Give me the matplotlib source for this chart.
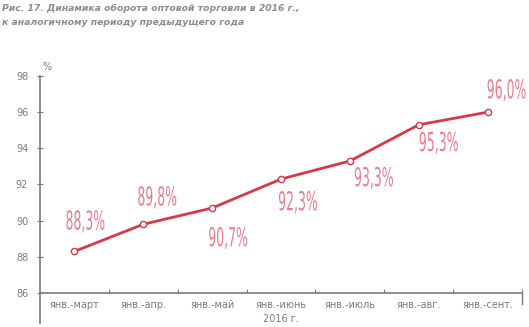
import matplotlib
matplotlib.use("Agg")
import matplotlib.pyplot as plt
import matplotlib.transforms as mtransforms
from matplotlib.lines import Line2D
from matplotlib.textpath import TextPath
from matplotlib.patches import PathPatch
from matplotlib.font_manager import FontProperties

periods = ["янв.-март", "янв.-апр.", "янв.-май", "янв.-июнь", "янв.-июль", "янв.-авг.", "янв.-сент."]
values = [88.3, 89.8, 90.7, 92.3, 93.3, 95.3, 96.0]
# label offsets (pixels, y up) from each point
label_dx = [11, 14, 16, 17, 24, 20, 19]
label_dy = [30, 27, -30, -23, -17, -18, 22]

line_color = "#d43a4a"
label_color = "#ea7e8e"
grey = "#7a7a7a"

fig = plt.figure(figsize=(5.29, 3.27), dpi=100)
ax = fig.add_axes([0.0756, 0.104, 0.9112, 0.6636])

x = list(range(len(values)))
ax.plot(x, values, color=line_color, lw=2.0, marker="o", ms=4.5,
        mfc="white", mec=line_color, mew=1.0, zorder=3)

ax.set_xlim(-0.5, len(values) - 0.5)
ax.set_ylim(86, 98)


def narrow_label(s, xi, v, dx, dy, size=26, squeeze=0.48):
    # condensed text drawn as a path, centred at the offset position
    tp = TextPath((0, 0), s, size=size, prop=FontProperties(family="DejaVu Sans"))
    ext = tp.get_extents()
    cx = (ext.x0 + ext.x1) / 2
    cy = (ext.y0 + ext.y1) / 2
    px, py = ax.transData.transform((xi, v))
    tr = mtransforms.Affine2D().translate(-cx, -cy).scale(squeeze, 1.0).translate(px + dx, py + dy)
    patch = PathPatch(tp, transform=tr, facecolor=label_color, edgecolor="none",
                      clip_on=False, zorder=4)
    ax.add_artist(patch)


for xi, v, dx, dy in zip(x, values, label_dx, label_dy):
    narrow_label(f"{v:.1f}%".replace(".", ","), xi, v, dx, dy)

ax.set_yticks(range(86, 99, 2))
ax.tick_params(axis="y", direction="inout", length=5, color=grey, labelsize=7,
               labelcolor=grey, pad=6)

ax.set_xticks([i + 0.5 for i in x])
ax.set_xticklabels([])
ax.set_xticks(x, minor=True)
ax.set_xticklabels(periods, minor=True, fontsize=7, color=grey)
ax.tick_params(axis="x", which="major", direction="in", length=3, color=grey)
ax.tick_params(axis="x", which="minor", length=0, pad=5)
ax.set_xlabel("2016 г.", fontsize=7, color=grey, labelpad=3)

for side in ["top", "right"]:
    ax.spines[side].set_visible(False)
for side in ["left", "bottom"]:
    ax.spines[side].set_color(grey)
    ax.spines[side].set_linewidth(1.2)

# left spine continues below the category axis
ax.add_line(Line2D([0, 0], [0, -0.14], transform=ax.transAxes, color=grey,
                   lw=1.2, clip_on=False))
ax.add_line(Line2D([1, 1], [0, -0.05], transform=ax.transAxes, color=grey,
                   lw=1.0, clip_on=False))

ax.text(0.005, 1.02, "%", transform=ax.transAxes, fontsize=7, color=grey,
        ha="left", va="bottom")

fig.text(0.004, 0.988, "Рис. 17. Динамика оборота оптовой торговли в 2016 г.,",
         fontsize=6.7, style="italic", weight="bold", color="#8c8c8c", va="top")
fig.text(0.004, 0.945, "к аналогичному периоду предыдущего года",
         fontsize=6.7, style="italic", weight="bold", color="#8c8c8c", va="top")

fig.savefig("out.png", dpi=100)
